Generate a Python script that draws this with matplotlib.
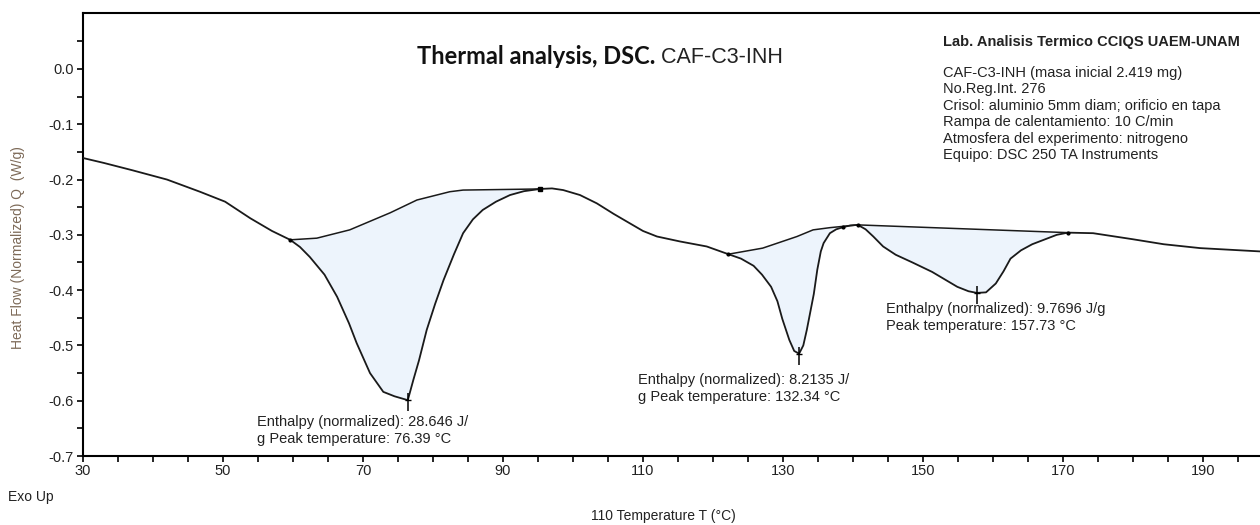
import numpy as np
import matplotlib
matplotlib.use('Agg')
from matplotlib import pyplot as plt

plt.rcParams['font.family'] = ['Liberation Sans', 'DejaVu Sans']

# -------DATA
temp = [30, 33, 37, 42, 46.7, 50.3, 53.9, 57, 59.6, 61, 62.4, 64.5, 66.3, 68, 69.1, 71, 72.9,
        74.5, 76.4, 77.2, 78, 79.1, 80.3, 81.5, 83, 84.3, 85.7, 87.1, 89, 91, 93, 95.3, 97,
        98.6, 101, 103.4, 105.8, 108.1, 110, 112, 115.3, 119.1, 122.2, 124, 125.8, 127, 128.3,
        129.2, 129.9, 130.9, 131.6, 132.3, 132.9, 133.4, 134.4, 134.9, 135.4, 135.8, 136.7, 137.6,
        138.6, 139.6, 140.7, 141.8, 142.9, 144.3, 146.1, 148.5, 151.3, 154.9, 156.5, 157.7, 159,
        160.4, 161.5, 162.5, 164, 165.6, 169.1, 170.7, 174.3, 180, 184.4, 189.6, 198.2]
heat = [-0.161, -0.170, -0.183, -0.200, -0.222, -0.240, -0.270, -0.293, -0.309, -0.322, -0.340,
        -0.372, -0.412, -0.460, -0.496, -0.550, -0.584, -0.592, -0.599, -0.562, -0.527, -0.472,
        -0.425, -0.382, -0.335, -0.297, -0.272, -0.255, -0.240, -0.228, -0.221, -0.217, -0.216,
        -0.219, -0.228, -0.243, -0.262, -0.279, -0.293, -0.303, -0.312, -0.321, -0.335, -0.343,
        -0.356, -0.372, -0.394, -0.420, -0.452, -0.490, -0.510, -0.515, -0.500, -0.472, -0.407,
        -0.363, -0.330, -0.315, -0.297, -0.290, -0.286, -0.283, -0.282, -0.290, -0.303, -0.321,
        -0.336, -0.350, -0.367, -0.394, -0.402, -0.405, -0.404, -0.388, -0.366, -0.343, -0.328,
        -0.317, -0.300, -0.296, -0.297, -0.308, -0.317, -0.324, -0.330]

# integration baselines of the three peaks
base1_t = [59.6, 63.4, 68.1, 73.9, 77.7, 82.4, 84.3, 95.3]
base1_q = [-0.309, -0.306, -0.291, -0.260, -0.237, -0.222, -0.219, -0.217]
base2_t = [122.2, 127.1, 132, 134.3, 136.7, 140.7]
base2_q = [-0.335, -0.324, -0.303, -0.291, -0.287, -0.282]
base3_t = [140.7, 170.7]
base3_q = [-0.282, -0.296]

peak_t = [76.4, 132.3, 157.7]
peak_q = [-0.599, -0.515, -0.405]
peak_txt = ['Enthalpy (normalized): 28.646 J/\ng Peak temperature: 76.39 \u00b0C',
            'Enthalpy (normalized): 8.2135 J/\ng Peak temperature: 132.34 \u00b0C',
            'Enthalpy (normalized): 9.7696 J/g\nPeak temperature: 157.73 \u00b0C']
txt_t = [54.9, 109.3, 144.7]
txt_q = [-0.625, -0.549, -0.421]

info_head = 'Lab. Analisis Termico CCIQS UAEM-UNAM'
info_lines = ['CAF-C3-INH (masa inicial 2.419 mg)',
              'No.Reg.Int. 276',
              'Crisol: aluminio 5mm diam; orificio en tapa',
              'Rampa de calentamiento: 10 C/min',
              'Atmosfera del experimento: nitrogeno',
              'Equipo: DSC 250 TA Instruments']

fill_col = '#EDF4FC'
line_col = '#1a1a1a'
txt_col = '#222222'

#-- FIGURE
fig = plt.figure(figsize=(12.6, 5.25), dpi=100)
ax = fig.add_axes([83/1260, 69/525, 1177/1260, 443/525])

t = np.array(temp)
q = np.array(heat)

# shaded peak areas between curve and baseline
for bt, bq in [(base1_t, base1_q), (base2_t, base2_q), (base3_t, base3_q)]:
    m = (t >= bt[0]) & (t <= bt[-1])
    tt = t[m]
    ax.fill_between(tt, q[m], np.interp(tt, bt, bq), color=fill_col, lw=0, zorder=1)
    ax.plot(bt, bq, color=line_col, lw=1.1, zorder=2)

ax.plot(t, q, color=line_col, lw=1.3, zorder=3, solid_joinstyle='round')

# little end-point markers
ax.plot([95.3], [-0.217], 's', color='k', ms=3.5, zorder=4)
ax.plot([59.6, 122.2, 138.6, 140.7, 170.7], [-0.309, -0.335, -0.286, -0.282, -0.296],
        'o', color='k', ms=2, zorder=4)
ax.plot(peak_t, [v - 0.004 for v in peak_q], '|', color='k', ms=13, mew=1.1, zorder=4)
ax.plot(peak_t, peak_q, '_', color='k', ms=5, mew=1.0, zorder=4)

for x, y, s in zip(txt_t, txt_q, peak_txt):
    ax.text(x, y, s, fontsize=10.5, color=txt_col, va='top', ha='left', linespacing=1.33)

# title in two fonts
t1 = fig.text(417/1260, 1 - 64/525, 'Thermal analysis, DSC.', fontsize=17, fontweight='bold',
              family=['Lato', 'DejaVu Sans'], color='#111111', va='baseline', ha='left')
ax.annotate(' CAF-C3-INH', xy=(1, 0), xycoords=t1, fontsize=15.5, color='#222222',
            va='bottom', ha='left')

fig.text(943/1260, 1 - 42/525, info_head, fontsize=10.5, fontweight='bold', color=txt_col,
         va='center', ha='left')
fig.text(943/1260, 1 - 66/525, '\n'.join(info_lines), fontsize=10.5, color=txt_col,
         va='top', ha='left', linespacing=1.22)

#-- AXES STYLE
ax.set_xlim(30, 30 + 1177/7)
ax.set_ylim(-0.7, 56/553)
ax.set_xticks([30, 50, 70, 90, 110, 130, 150, 170, 190])
ax.set_xticks(np.arange(35, 198, 5), minor=True)
ax.set_yticks([0.0, -0.1, -0.2, -0.3, -0.4, -0.5, -0.6, -0.7])
ax.set_yticklabels(['0.0', '-0.1', '-0.2', '-0.3', '-0.4', '-0.5', '-0.6', '-0.7'])
ax.set_yticks(np.arange(-0.65, 0.1, 0.1), minor=True)
ax.tick_params(which='both', direction='out', length=4.5, width=1.2, color='k',
               labelsize=10.5, labelcolor=txt_col)
ax.tick_params(axis='x', pad=1)
ax.tick_params(axis='y', pad=2)
ax.spines['right'].set_visible(False)
for s in ['left', 'bottom', 'top']:
    ax.spines[s].set_linewidth(1.5)

fig.text(18/1260, 1 - 248/525, 'Heat Flow (Normalized) Q  (W/g)', rotation=90, fontsize=10,
         color='#7d6a58', va='center', ha='center')
fig.text(663/1260, 1 - 516/525, '110 Temperature T (\u00b0C)', fontsize=10, color=txt_col,
         va='center', ha='center')
fig.text(8/1260, 1 - 497/525, 'Exo Up', fontsize=10, color=txt_col, va='center', ha='left')

fig.savefig('out.png', dpi=100)
